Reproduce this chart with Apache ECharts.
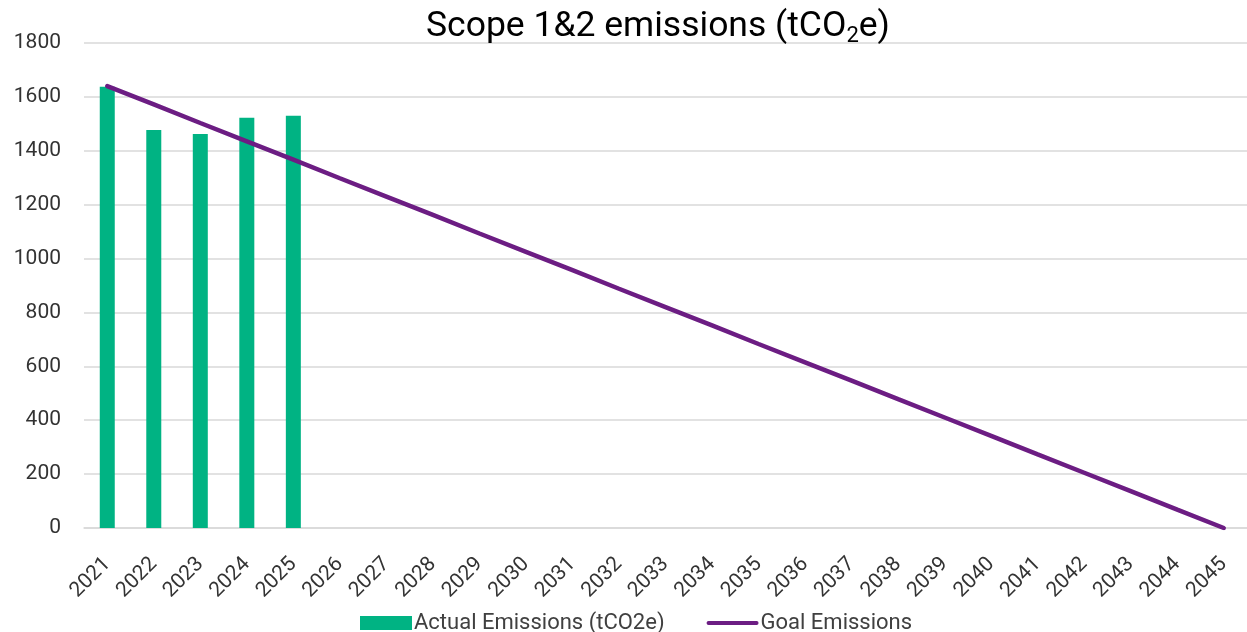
<!DOCTYPE html>
<html>
<head>
<meta charset="utf-8">
<script src="https://cdn.jsdelivr.net/npm/echarts@6/dist/echarts.min.js"></script>
<style>
html,body{margin:0;padding:0;background:#fff;}
#c{width:1247px;height:632px;}
</style>
</head>
<body>
<div id="c"></div>
<script>
const years = ['2021','2022','2023','2024','2025','2026','2027','2028','2029','2030','2031','2032','2033','2034','2035','2036','2037','2038','2039','2040','2041','2042','2043','2044','2045'];
const actualEmissions = [1638, 1477, 1462, 1523, 1530];
const goalEmissions = [1640, 1572, 1503, 1435, 1367, 1298, 1230, 1162, 1093, 1025, 957, 888, 820, 752, 683, 615, 547, 478, 410, 342, 273, 205, 137, 68, 0];
const yTicks = [0, 200, 400, 600, 800, 1000, 1200, 1400, 1600, 1800];

const font = 'Roboto, "Liberation Sans", sans-serif';
const chart = echarts.init(document.getElementById('c'), null, {renderer:'canvas'});
chart.setOption({
  animation: false,
  backgroundColor: '#ffffff',
  title: {
    text: '{a|Scope 1&2 emissions (tCO}{s|2}{a|e)}',
    left: 421,
    top: 2,
    textStyle: {
      rich: {
        a: {fontSize: 35.5, color: '#000', fontFamily: font, fontWeight: 'normal', lineHeight: 40},
        s: {fontSize: 22, color: '#000', fontFamily: font, fontWeight: 'normal', lineHeight: 20, verticalAlign: 'bottom'}
      }
    }
  },
  grid: {left: 84, right: 0, top: 43, bottom: 104, containLabel: false},
  legend: {
    top: 607,
    left: 355,
    itemWidth: 52,
    itemHeight: 14,
    itemGap: 42,
    textStyle: {fontSize: 22, color: '#404040', fontFamily: font, padding: [0,0,0,-3]},
    data: [
      {name: 'Actual Emissions (tCO2e)', icon: 'rect'},
      {name: 'Goal Emissions', icon: 'path://M0,0 L0.01,0 L0,0.01 Z M2,5 L50,5 A2,2 0 0 1 50,9 L2,9 A2,2 0 0 1 2,5 Z M0,14 L0.01,14 L0,13.99 Z'}
    ]
  },
  xAxis: {
    type: 'category',
    data: years,
    axisLine: {show: true, lineStyle: {color: '#d9d9d9', width: 1.5}},
    axisTick: {show: false},
    axisLabel: {rotate: 45, fontSize: 21, color: '#333', fontFamily: font, margin: 33, interval: 0}
  },
  yAxis: {
    type: 'value',
    min: yTicks[0],
    max: yTicks[yTicks.length - 1],
    interval: 200,
    axisLine: {show: false},
    axisTick: {show: false},
    axisLabel: {fontSize: 21, color: '#333', fontFamily: font, margin: 23, formatter: v => String(v)},
    splitLine: {lineStyle: {color: '#d9d9d9', width: 1.5}}
  },
  series: [
    {
      name: 'Actual Emissions (tCO2e)',
      type: 'bar',
      data: actualEmissions,
      barWidth: 15,
      itemStyle: {color: '#00B383'}
    },
    {
      name: 'Goal Emissions',
      type: 'line',
      data: goalEmissions,
      showSymbol: false,
      symbol: 'none',
      lineStyle: {color: '#6C1D83', width: 4.5, cap: 'round'},
      itemStyle: {color: '#6C1D83'}
    }
  ]
});
</script>
</body>
</html>
